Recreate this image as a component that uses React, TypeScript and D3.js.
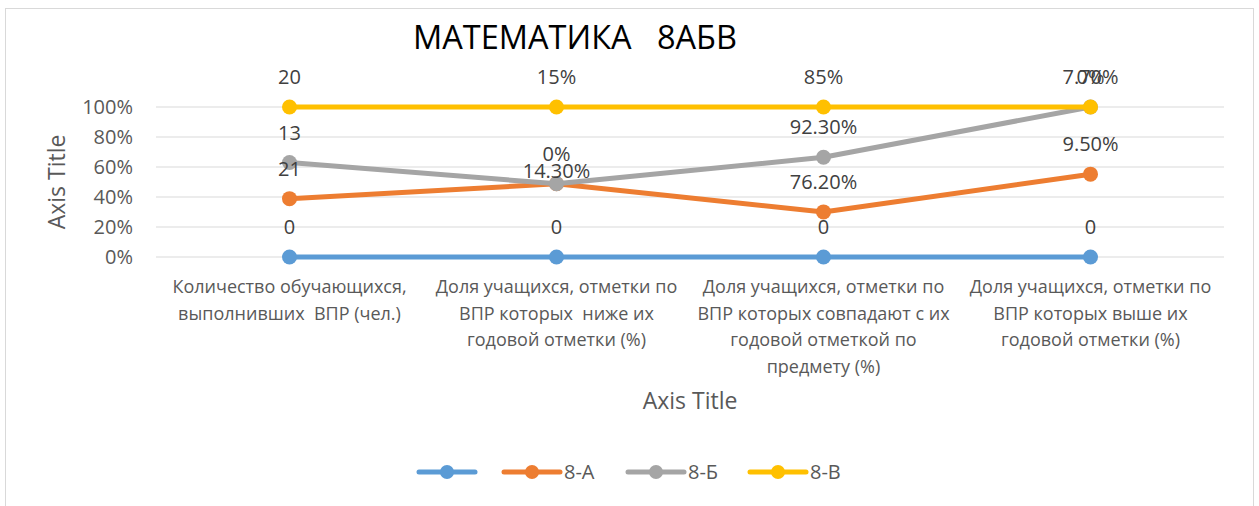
import React from "react";
import * as d3 from "d3";

const title = "МАТЕМАТИКА   8АБВ";
const categories = [
  "Количество обучающихся,\nвыполнивших  ВПР (чел.)",
  "Доля учащихся, отметки по\nВПР которых  ниже их\nгодовой отметки (%)",
  "Доля учащихся, отметки по\nВПР которых совпадают с их\nгодовой отметкой по\nпредмету (%)",
  "Доля учащихся, отметки по\nВПР которых выше их\nгодовой отметки (%)",
];
const seriesNames = ["", "8-А", "8-Б", "8-В"];
const seriesColors = ["#5B9BD5", "#ED7D31", "#A5A5A5", "#FFC000"];
const valuesBlank = [0, 0, 0, 0];
const values8A = [21, 0.143, 0.762, 0.095];
const values8B = [13, 0, 0.923, 0.077];
const values8V = [20, 0.15, 0.85, 0];
const labels8A = ["21", "14.30%", "76.20%", "9.50%"];
const labels8B = ["13", "0%", "92.30%", "7.70%"];
const labels8V = ["20", "15%", "85%", "0%"];
const labelsBlank = ["0", "0", "0", "0"];
const yTicks = [0, 0.2, 0.4, 0.6, 0.8, 1];

const W = 1259;
const H = 506;
const FONT = "'Open Sans', 'Noto Sans', sans-serif";

export default function App() {
  const allValues = [valuesBlank, values8A, values8B, values8V];
  const allLabels = [labelsBlank, labels8A, labels8B, labels8V];

  const x = d3.scalePoint<number>().domain(categories.map((_, i) => i)).range([156, 1224]).padding(0.5);
  const y = d3.scaleLinear().domain([0, 1]).range([257, 107]);

  // 100% stacked
  const totals = categories.map((_, i) => d3.sum(allValues, (s) => s[i]));
  const cum = allValues.map((s, si) =>
    categories.map((_, i) => {
      const c = d3.sum(allValues.slice(0, si + 1), (t) => t[i]);
      return totals[i] === 0 ? 0 : c / totals[i];
    })
  );

  const line = d3
    .line<number>()
    .x((_, i) => x(i) as number)
    .y((d) => y(d));

  // label placement with simple collision avoidance
  const labelH = 17;
  const labelPos: { x: number; y: number; text: string; si: number }[] = [];
  categories.forEach((_, ci) => {
    const placed: number[] = [];
    for (let si = allValues.length - 1; si >= 0; si--) {
      const frac = cum[si][ci];
      let ly = y(frac) - 30;
      if (frac < 0.999) {
        for (const p of placed) {
          if (Math.abs(p - ly) < labelH) ly = p + labelH;
        }
      }
      placed.push(ly);
      labelPos.push({ x: x(ci) as number, y: ly, text: allLabels[si][ci], si });
    }
  });

  const legendItems = [
    { x: 419, si: 0 },
    { x: 504, si: 1 },
    { x: 628, si: 2 },
    { x: 750, si: 3 },
  ];

  return (
    <svg width={W} height={H} style={{ position: "absolute", left: 0, top: 0, background: "#fff" }} fontFamily={FONT}>
      <rect x={5.5} y={8.5} width={1248} height={520} fill="#fff" stroke="#D9D9D9" strokeWidth={1} />
      <text x={575} y={49} textAnchor="middle" fontSize={32.5} fill="#000" style={{ whiteSpace: "pre" }}>
        {title}
      </text>
      {yTicks.map((t) => (
        <g key={t}>
          <line x1={156} x2={1224} y1={y(t)} y2={y(t)} stroke="#D9D9D9" strokeWidth={1} />
          <text x={133} y={y(t)} dy="0.35em" textAnchor="end" fontSize={20} fill="#595959">
            {d3.format(".0%")(t)}
          </text>
        </g>
      ))}
      <text
        transform={`translate(57,182) rotate(-90)`}
        textAnchor="middle"
        dy="0.35em"
        fontSize={23}
        fill="#595959"
      >
        Axis Title
      </text>
      {categories.map((c, i) => (
        <text key={i} x={x(i)} y={287} textAnchor="middle" fontSize={18} fill="#595959" style={{ whiteSpace: "pre" }}>
          {c.split("\n").map((ln, k) => (
            <tspan key={k} x={x(i)} dy={k === 0 ? "0.35em" : 26.5}>
              {ln}
            </tspan>
          ))}
        </text>
      ))}
      <text x={690} y={401} textAnchor="middle" dy="0.35em" fontSize={23} fill="#595959">
        Axis Title
      </text>
      {cum.map((s, si) => (
        <g key={si}>
          <path d={line(s) || ""} fill="none" stroke={seriesColors[si]} strokeWidth={5} strokeLinecap="round" strokeLinejoin="round" />
          {s.map((v, i) => (
            <circle key={i} cx={x(i)} cy={y(v)} r={7.5} fill={seriesColors[si]} />
          ))}
        </g>
      ))}
      {labelPos.map((l, k) => (
        <text key={k} x={l.x} y={l.y} dy="0.35em" textAnchor="middle" fontSize={20} fill="#404040">
          {l.text}
        </text>
      ))}
      {legendItems.map((it) => (
        <g key={it.si}>
          <line x1={it.x} x2={it.x + 56} y1={472} y2={472} stroke={seriesColors[it.si]} strokeWidth={5} strokeLinecap="round" />
          <circle cx={it.x + 28} cy={472} r={7} fill={seriesColors[it.si]} />
          {seriesNames[it.si] && (
            <text x={it.x + 60} y={472} dy="0.35em" fontSize={20} fill="#595959">
              {seriesNames[it.si]}
            </text>
          )}
        </g>
      ))}
    </svg>
  );
}
